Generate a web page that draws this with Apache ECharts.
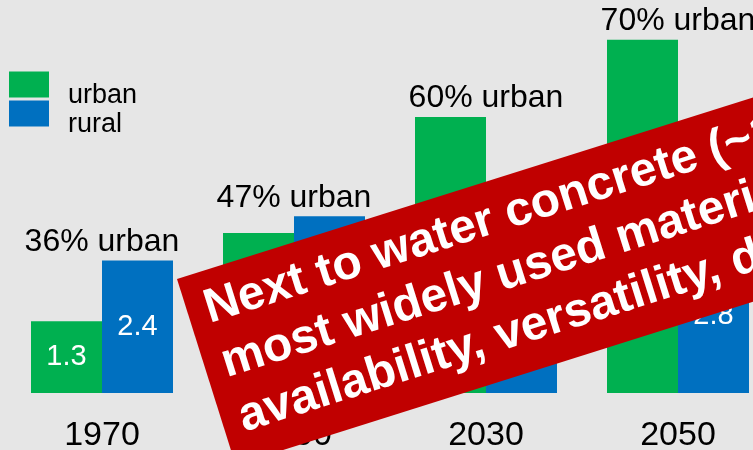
<!DOCTYPE html>
<html>
<head>
<meta charset="utf-8">
<script src="https://cdn.jsdelivr.net/npm/echarts@6/dist/echarts.min.js"></script>
<style>
  html, body { margin: 0; padding: 0; background: #e6e6e6; }
  #chart { width: 753px; height: 450px; }
</style>
</head>
<body>
<div id="chart"></div>
<script>
// World population, billions: urban vs rural
const years = ['1970', '2000', '2030', '2050'];
const urban = [1.3, 2.9, 5.0, 6.4];
const rural = [2.4, 3.2, 3.3, 2.8];
const urbanShare = [36, 47, 60, 70];

const bannerLines = [
  'Next to water concrete (~10 billion t/yr) is the',
  'most widely used material thanks to its',
  'availability, versatility, durability and low cost'
];

const FONT = '"Liberation Sans", Arial, sans-serif';
const BG = '#e6e6e6';
const GREEN = '#00b050';
const BLUE = '#0070c0';

// Label anchor for each group: top of the taller bar
const groupTop = years.map((_, i) => Math.max(urban[i], rural[i]));

const chart = echarts.init(document.getElementById('chart'), null, { renderer: 'canvas' });

const valueLabel = {
  show: true,
  position: 'inside',
  color: '#ffffff',
  fontFamily: FONT,
  fontSize: 29,
  formatter: p => p.value.toFixed(1)
};

// Legend labels sit a little below their swatches
const legendText = {
  color: '#000000',
  fontFamily: FONT,
  fontSize: 27,
  lineHeight: 22,
  rich: {
    gap: { lineHeight: 22, fontSize: 27 },
    t: { lineHeight: 22, fontSize: 27, color: '#000000', fontFamily: FONT, padding: [0, 0, 0, 14] }
  }
};
const legendFormatter = name => '{gap|}\n{t|' + name + '}';

chart.setOption({
  backgroundColor: BG,
  animation: false,
  grid: {
    left: 6, width: 768, top: 6.6, bottom: 57,
    containLabel: false, outerBoundsMode: 'none'
  },
  legend: [
    {
      data: ['urban'], left: 9, top: 60, padding: 0, orient: 'vertical',
      itemWidth: 40, itemHeight: 26, selectedMode: false, icon: 'rect',
      formatter: legendFormatter, textStyle: legendText
    },
    {
      data: ['rural'], left: 9, top: 89, padding: 0, orient: 'vertical',
      itemWidth: 40, itemHeight: 26, selectedMode: false, icon: 'rect',
      formatter: legendFormatter, textStyle: legendText
    }
  ],
  xAxis: {
    type: 'category',
    data: years,
    axisLine: { show: false },
    axisTick: { show: false },
    axisLabel: { color: '#000000', fontFamily: FONT, fontSize: 34, margin: 26 }
  },
  yAxis: {
    type: 'value',
    min: 0,
    max: 7,
    show: false,
    splitLine: { show: false }
  },
  series: [
    {
      name: 'urban', type: 'bar', data: urban,
      barWidth: 71, barGap: '0%',
      itemStyle: { color: GREEN },
      label: valueLabel
    },
    {
      name: 'rural', type: 'bar', data: rural,
      barWidth: 71, barGap: '0%',
      itemStyle: { color: BLUE },
      label: valueLabel
    },
    {
      name: 'share', type: 'scatter', data: groupTop,
      symbolSize: 0.1,
      itemStyle: { color: BG, opacity: 1 },
      silent: true,
      label: {
        show: true,
        position: 'top',
        distance: 2.5,
        color: '#000000',
        opacity: 1,
        fontFamily: FONT,
        fontSize: 32,
        formatter: p => urbanShare[p.dataIndex] + '% urban'
      }
    }
  ],
  graphic: [
    {
      type: 'group',
      x: 177,
      y: 279,
      rotation: 17.5 * Math.PI / 180,
      z: 100,
      zlevel: 1,
      children: [
        {
          type: 'rect',
          z: 100,
          zlevel: 1,
          shape: { x: 0, y: 0, width: 900, height: 195 },
          style: { fill: '#c00000' }
        },
        {
          type: 'text',
          z: 101,
          zlevel: 1,
          x: 18,
          y: 95.5,
          style: {
            text: bannerLines.join('\n'),
            fill: '#ffffff',
            font: 'bold 48px ' + FONT,
            lineHeight: 57,
            verticalAlign: 'middle',
            align: 'left'
          }
        }
      ]
    }
  ]
});
</script>
</body>
</html>
